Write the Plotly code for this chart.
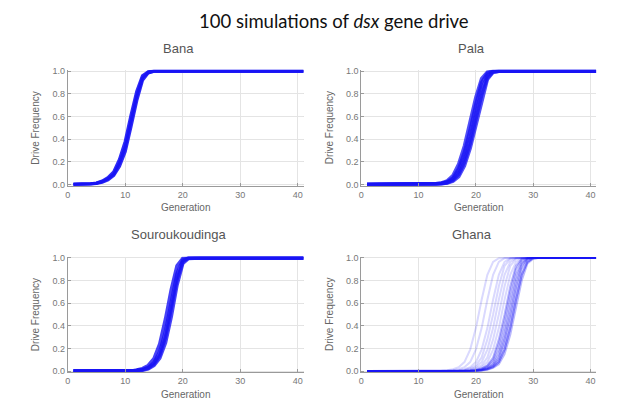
import plotly.graph_objects as go

# ---------------- data ----------------
GENERATIONS = list(range(1, 42))
PANEL_NAMES = ["Bana", "Pala", "Souroukoudinga", "Ghana"]
TITLE = "100 simulations of <i>dsx</i> gene drive"
X_LABEL = "Generation"
Y_LABEL = "Drive Frequency"
X_TICKS = [0, 10, 20, 30, 40]
Y_TICKS = [0, 0.2, 0.4, 0.6, 0.8, 1.0]
Y_TICK_LABELS = ["0.0", "0.2", "0.4", "0.6", "0.8", "1.0"]

BANA_RUNS = [
    [0,0,0,.005,.01,.025,.05,.09,.19,.33,.56,.78,.94,.99,
     1,1,1,1,1,1,1,1,1,1, 1,1,1,1,1,1,1,1,1,1, 1,1,1,1,1,1,1],
    [0,0,0,.004,.008,.02,.04,.08,.16,.29,.51,.74,.92,.985,
     1,1,1,1,1,1,1,1,1,1, 1,1,1,1,1,1,1,1,1,1, 1,1,1,1,1,1,1],
    [0,0,0,.006,.012,.03,.06,.11,.22,.38,.61,.82,.96,.995,
     1,1,1,1,1,1,1,1,1,1, 1,1,1,1,1,1,1,1,1,1, 1,1,1,1,1,1,1],
]

PALA_RUNS = [
    [0,0,0,0,0,0,0,0,0,0,0, .004,.006,.013,.032,.078,.18,.34,.546,.77,.934,.992,
     1,1,1,1,1,1,1,1,1,1, 1,1,1,1,1,1,1,1,1],
    [0,0,0,0,0,0,0,0,0,0,0,0, .005,.0095,.0235,.0565,.141,.285,.48,.707,.90,.983,.999,
     1,1,1,1,1,1,1,1,1,1, 1,1,1,1,1,1,1,1],
    [0,0,0,0,0,0,0,0,0,0,0,0, .004,.008,.019,.046,.114,.24,.42,.638,.844,.962,.996,
     1,1,1,1,1,1,1,1,1,1, 1,1,1,1,1,1,1,1],
    [0,0,0,0,0,0,0,0,0,0,0,0, .003,.0065,.0145,.0355,.087,.195,.36,.569,.787,.941,.993,
     1,1,1,1,1,1,1,1,1,1, 1,1,1,1,1,1,1,1],
    [0,0,0,0,0,0,0,0,0,0,0,0, .003,.0055,.0115,.0285,.069,.165,.32,.523,.749,.927,.991,
     1,1,1,1,1,1,1,1,1,1, 1,1,1,1,1,1,1,1],
]

SOUROU_RUNS = [
    [0,0,0,0,0,0,0,0,0,0,0, .01,.022,.05,.11,.24,.46,.72,.93,.995,
     1,1,1,1,1,1,1,1,1,1, 1,1,1,1,1,1,1,1,1,1, 1],
    [0,0,0,0,0,0,0,0,0,0,0, .006,.014,.032,.075,.17,.35,.60,.86,.98,
     1,1,1,1,1,1,1,1,1,1, 1,1,1,1,1,1,1,1,1,1, 1],
    [0,0,0,0,0,0,0,0,0,0,0, .005,.011,.026,.062,.14,.30,.54,.81,.965,
     1,1,1,1,1,1,1,1,1,1, 1,1,1,1,1,1,1,1,1,1, 1],
    [0,0,0,0,0,0,0,0,0,0,0, .004,.008,.02,.05,.115,.25,.48,.76,.95,.995,
     1,1,1,1,1,1,1,1,1,1, 1,1,1,1,1,1,1,1,1,1],
]

# Ghana: sparse earlier runs
GHANA_EARLY_RUNS = [
    [0,0,0,0,0,0,0,0,0,0,0,0,0, .003,.007,.017,.035,.08,.19,.38,.63,.85,.965,.997,
     1,1,1,1,1,1,1,1,1,1, 1,1,1,1,1,1,1],
    [0,0,0,0,0,0,0,0,0,0,0,0,0,0, .003,.007,.017,.035,.08,.19,.38,.63,.85,.965,.997,
     1,1,1,1,1,1,1,1,1,1, 1,1,1,1,1,1],
    [0,0,0,0,0,0,0,0,0,0,0,0,0,0,0, .003,.007,.017,.035,.08,.19,.38,.63,.85,.965,.997,
     1,1,1,1,1,1,1,1,1,1, 1,1,1,1,1],
    [0,0,0,0,0,0,0,0,0,0,0,0,0,0,0,0, .004,.01,.025,.05,.12,.28,.5,.75,.93,.99,
     1,1,1,1,1,1,1,1,1,1, 1,1,1,1,1],
    [0,0,0,0,0,0,0,0,0,0,0,0,0,0,0,0, .003,.007,.017,.035,.08,.19,.38,.63,.85,.965,.997,
     1,1,1,1,1,1,1,1,1,1, 1,1,1,1],
    [0,0,0,0,0,0,0,0,0,0,0,0,0,0,0,0,0, .004,.01,.025,.05,.12,.28,.5,.75,.93,.99,
     1,1,1,1,1,1,1,1,1,1, 1,1,1,1],
    [0,0,0,0,0,0,0,0,0,0,0,0,0,0,0,0,0, .003,.007,.017,.035,.08,.19,.38,.63,.85,.965,.997,
     1,1,1,1,1,1,1,1,1,1, 1,1,1],
]
# Ghana: dense cluster of later runs
GHANA_LATE_RUNS = [
    [0,0,0,0,0,0,0,0,0,0,0,0,0,0,0,0,0,0, .004,.01,.025,.05,.12,.28,.5,.75,.93,.99,
     1,1,1,1,1,1,1,1,1,1, 1,1,1],
    [0,0,0,0,0,0,0,0,0,0,0,0,0,0,0,0,0,0, .003,.008,.02,.045,.10,.24,.45,.70,.90,.985,
     1,1,1,1,1,1,1,1,1,1, 1,1,1],
    [0,0,0,0,0,0,0,0,0,0,0,0,0,0,0,0,0,0, .003,.007,.017,.035,.08,.19,.38,.63,.85,.965,.997,
     1,1,1,1,1,1,1,1,1,1, 1,1],
    [0,0,0,0,0,0,0,0,0,0,0,0,0,0,0,0,0,0, .002,.005,.012,.028,.06,.15,.32,.56,.80,.95,.993,
     1,1,1,1,1,1,1,1,1,1, 1,1],
    [0,0,0,0,0,0,0,0,0,0,0,0,0,0,0,0,0,0,0, .004,.01,.025,.05,.12,.28,.5,.75,.93,.99,
     1,1,1,1,1,1,1,1,1,1, 1,1],
    [0,0,0,0,0,0,0,0,0,0,0,0,0,0,0,0,0,0,0, .003,.008,.02,.045,.10,.24,.45,.70,.90,.985,
     1,1,1,1,1,1,1,1,1,1, 1,1],
    [0,0,0,0,0,0,0,0,0,0,0,0,0,0,0,0,0,0,0, .003,.007,.017,.035,.08,.19,.38,.63,.85,.965,.997,
     1,1,1,1,1,1,1,1,1,1, 1],
    [0,0,0,0,0,0,0,0,0,0,0,0,0,0,0,0,0,0,0, .003,.007,.017,.035,.08,.19,.38,.63,.85,.965,.997,
     1,1,1,1,1,1,1,1,1,1, 1],
    [0,0,0,0,0,0,0,0,0,0,0,0,0,0,0,0,0,0,0, .002,.005,.012,.028,.06,.15,.32,.56,.80,.95,.993,
     1,1,1,1,1,1,1,1,1,1, 1],
]

PANEL_RUNS = [BANA_RUNS, PALA_RUNS, SOUROU_RUNS, GHANA_EARLY_RUNS + GHANA_LATE_RUNS]
for runs in PANEL_RUNS:
    for r in runs:
        assert len(r) == len(GENERATIONS), len(r)

# ---------------- layout (pixels in a 641x403 page) ----------------
W, H = 641, 403
BLUE = "rgb(25,20,245)"
# panel boxes: (left, right, top, bottom) in pixels
BOXES = [(65, 302, 68, 186), (360, 596, 68, 186),
         (65, 302, 258, 376), (360, 596, 258, 376)]
LINE_STYLE = [(3.2, 0.9), (3.5, 0.75), (3.5, 0.8), (2.0, 0.16)]
GHANA_LATE_OPACITY = 0.3

fig = go.Figure()
annotations = []
for i, (name, runs, box) in enumerate(zip(PANEL_NAMES, PANEL_RUNS, BOXES)):
    l, r, t, b = box
    ax = "" if i == 0 else str(i + 1)
    width, op = LINE_STYLE[i]
    for k, run in enumerate(runs):
        o = op
        if i == 3 and k >= len(GHANA_EARLY_RUNS):
            o = GHANA_LATE_OPACITY
        fig.add_trace(go.Scatter(
            x=GENERATIONS, y=run, mode="lines",
            line=dict(color=BLUE, width=width), opacity=o,
            xaxis="x" + ax, yaxis="y" + ax, showlegend=False,
            hoverinfo="skip"))
    common = dict(showgrid=True, gridcolor="#e4e4e4", gridwidth=1,
                  showline=True, linecolor="#9a9a9a", linewidth=1,
                  zeroline=False, ticks="inside", ticklen=3,
                  tickcolor="#9a9a9a",
                  tickfont=dict(family="Liberation Sans", size=9, color="#777777"))
    fig.layout["xaxis" + ax] = dict(
        domain=[l / W, r / W], range=[0, 41], tickvals=X_TICKS,
        anchor="y" + ax, **common)
    fig.layout["yaxis" + ax] = dict(
        domain=[1 - b / H, 1 - t / H], range=[-0.012, 1.012],
        tickvals=Y_TICKS, ticktext=Y_TICK_LABELS, anchor="x" + ax, **common)
    cx = (l + r) / 2
    cy = (t + b) / 2
    annotations.append(dict(
        text=name, x=(cx - 7) / W, y=1 - (t - 22) / H, xref="paper", yref="paper",
        showarrow=False, xanchor="center", yanchor="middle",
        font=dict(family="Liberation Sans", size=13, color="#555555")))
    annotations.append(dict(
        text=X_LABEL, x=cx / W, y=1 - (b + 22) / H, xref="paper", yref="paper",
        showarrow=False, xanchor="center", yanchor="middle",
        font=dict(family="Liberation Sans", size=10, color="#666666")))
    annotations.append(dict(
        text=Y_LABEL, x=(l - 32) / W, y=1 - cy / H, xref="paper", yref="paper",
        showarrow=False, xanchor="center", yanchor="middle", textangle=-90,
        font=dict(family="Liberation Sans", size=10, color="#666666")))

annotations.append(dict(
    text=TITLE, x=333 / W, y=1 - 18 / H, xref="paper", yref="paper",
    showarrow=False, xanchor="center", yanchor="middle",
    font=dict(family="Lato", size=18.5, color="#111111")))

fig.update_layout(
    width=W, height=H, margin=dict(l=0, r=0, t=0, b=0),
    paper_bgcolor="white", plot_bgcolor="white",
    annotations=annotations)

fig.write_html("out.html")
